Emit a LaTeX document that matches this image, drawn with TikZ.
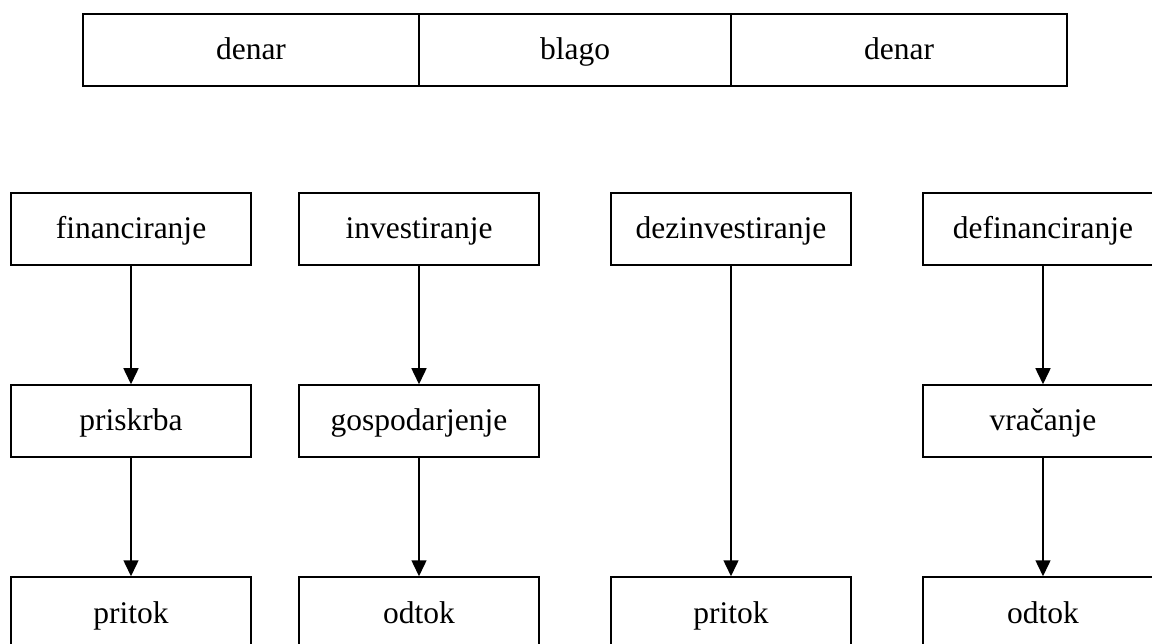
\documentclass[tikz,border=0pt]{standalone}
\usepackage{fontspec}
\setmainfont{Liberation Serif}
\usetikzlibrary{arrows.meta}

\tikzset{%
  every box/.style={
    rectangle,
    draw,
    line width=1.5pt,
    minimum width=240pt,
    minimum height=72pt,
    inner sep=0pt,
    text height=24pt,
    text depth=4pt,
    font=\fontsize{31.5}{36}\selectfont
  },
  bar cell/.style={
    every box,
    minimum height=72pt
  },
  flow/.style={
    line width=1.5pt,
    -{Triangle[width=15pt,length=16pt]}
  },
}

\begin{document}
\begin{tikzpicture}[x=1pt, y=-1pt]

            \useasboundingbox (0,0) rectangle (1152,644);
            \clip (0,0) rectangle (1152,644);

            % top bar
            \foreach \t/\x/\w [count=\i] in {denar/251/336, blago/575/312, denar/899/336}
              \node [bar cell, minimum width=\w pt] (cell-\i) at (\x,50) {\t};

            \foreach \t/\x [count=\i] in {financiranje/131, investiranje/419, dezinvestiranje/731, definanciranje/1043}
              \node [every box] (top-\i) at (\x,229) {\t};

            \foreach \t/\x/\i in {priskrba/131/1, gospodarjenje/419/2, vračanje/1043/4}
              \node [every box] (mid-\i) at (\x,421) {\t};

            \foreach \t/\x [count=\i] in {pritok/131, odtok/419, pritok/731, odtok/1043}
              \node [every box] (bot-\i) at (\x,613) {\t};

            \foreach \i in {1,2,4}
              \draw [flow] (top-\i) -- (mid-\i);

            \foreach \i in {1,2,4}
              \draw [flow] (mid-\i) -- (bot-\i);

            \draw [flow] (top-3) -- (bot-3);

\end{tikzpicture}
\end{document}
